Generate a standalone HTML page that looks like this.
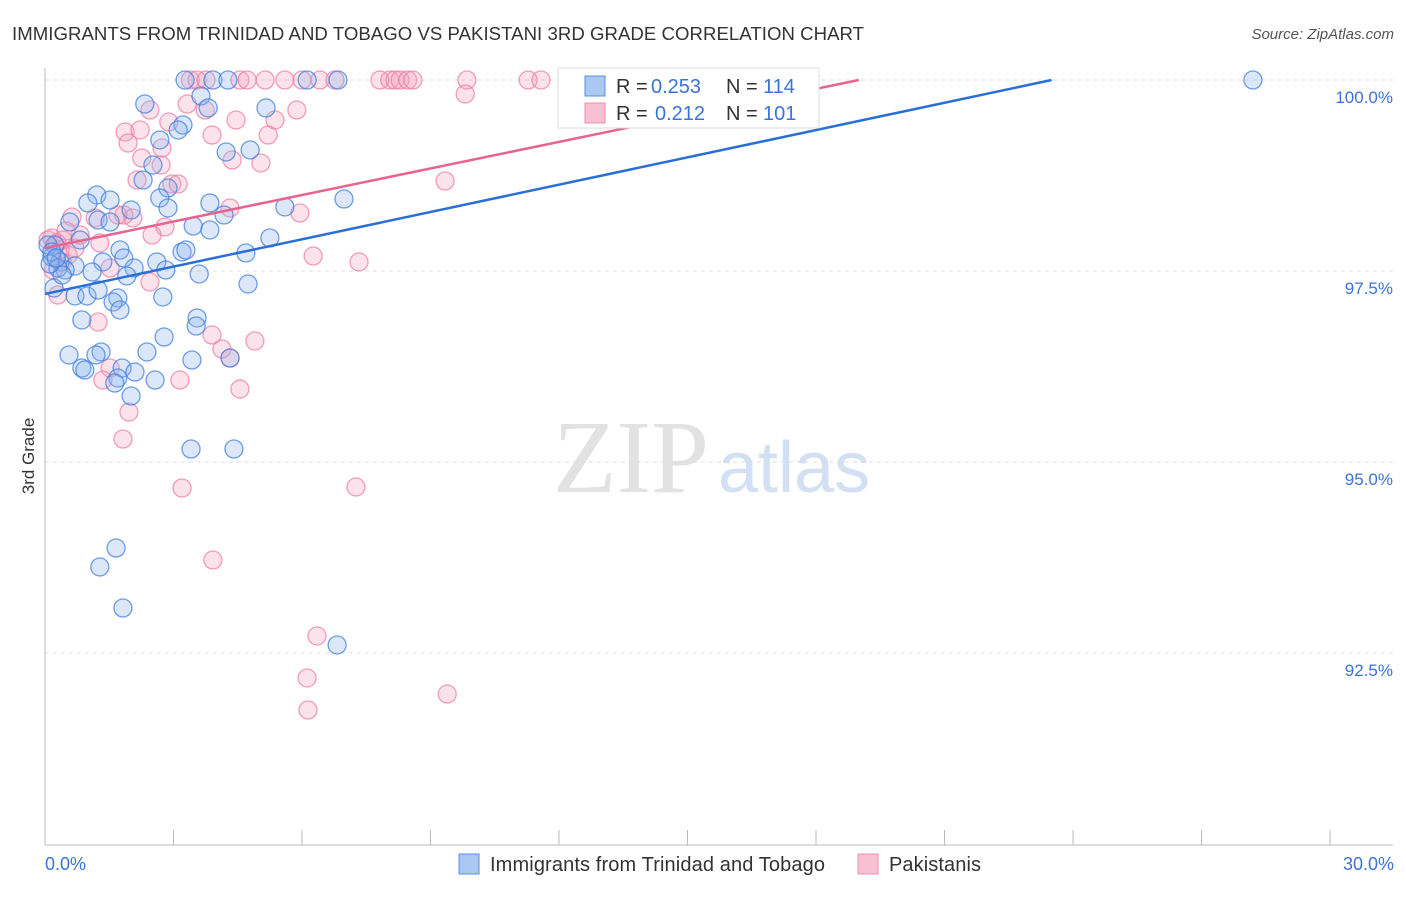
<!DOCTYPE html>
<html><head><meta charset="utf-8"><style>
body{margin:0;background:#fff;font-family:"Liberation Sans",sans-serif;}
</style></head><body>
<svg id="chart" width="1406" height="892" xmlns="http://www.w3.org/2000/svg">
<text x="12" y="40" font-size="18.6" fill="#333" textLength="852">IMMIGRANTS FROM TRINIDAD AND TOBAGO VS PAKISTANI 3RD GRADE CORRELATION CHART</text>
<text x="1394" y="39" font-size="15" fill="#555" font-style="italic" text-anchor="end">Source: ZipAtlas.com</text>
<text x="553" y="492" font-size="104" fill="#e2e2e2" font-family="Liberation Serif,serif">ZIP</text>
<text x="718" y="492" font-size="72" fill="#d3e0f3">atlas</text>
<g id="grid"></g>
<g id="axes"></g>
<g id="pts"></g>
<g id="lines"></g>
<text transform="translate(34,456) rotate(-90)" font-size="17" fill="#333" text-anchor="middle">3rd Grade</text>
<text x="45" y="870" font-size="18" fill="#3b73d6">0.0%</text>
<text x="1394" y="870" font-size="18" fill="#3b73d6" text-anchor="end">30.0%</text>
<g>
<rect x="558" y="68" width="261" height="60" fill="#fff" stroke="#ddd"/>
<rect x="585" y="76" width="20" height="20" fill="#aac8f2" stroke="#5b8fe0"/>
<rect x="585" y="103" width="20" height="20" fill="#f8c0d2" stroke="#ee8fae"/>
<text x="616" y="93" font-size="20" fill="#333">R =</text>
<text x="651" y="93" font-size="20" fill="#3b73d6">0.253</text>
<text x="726" y="93" font-size="20" fill="#333">N =</text>
<text x="763" y="93" font-size="20" fill="#3b73d6">114</text>
<text x="616" y="120" font-size="20" fill="#333">R =</text>
<text x="655" y="120" font-size="20" fill="#3b73d6">0.212</text>
<text x="726" y="120" font-size="20" fill="#333">N =</text>
<text x="763" y="120" font-size="20" fill="#3b73d6">101</text>
</g>
<g>
<rect x="459" y="854" width="20" height="20" fill="#aac8f2" stroke="#5b8fe0"/>
<text x="490" y="871" font-size="20" fill="#333" textLength="335">Immigrants from Trinidad and Tobago</text>
<rect x="858" y="854" width="20" height="20" fill="#f8c0d2" stroke="#ee8fae"/>
<text x="889" y="871" font-size="20" fill="#333" textLength="92">Pakistanis</text>
</g>
</svg>
<script>
const yTicks=[100,97.5,95,92.5];
const yTickLabels=["100.0%","97.5%","95.0%","92.5%"];
const blueLine=[[0,97.2],[23.5,100]];
const pinkLine=[[0,97.8],[19.0,100]];
const bluePx=[[185,80],[213,80],[228,80],[307,80],[338,80],[1253,80],[145,104],[201,96],[208,108],[266,108],[183,125],[178,130],[160,140],[226,152],[250,150],[153,165],[143,180],[168,188],[97,195],[110,200],[88,203],[160,198],[210,203],[285,207],[344,199],[131,210],[168,208],[224,215],[98,220],[110,222],[70,222],[193,226],[210,230],[270,238],[55,245],[80,240],[120,250],[182,252],[186,250],[246,253],[52,257],[60,262],[75,266],[103,262],[124,258],[157,262],[134,268],[166,270],[65,270],[92,272],[127,276],[199,274],[248,284],[54,288],[75,296],[87,296],[98,290],[118,298],[163,297],[113,302],[120,310],[82,320],[197,318],[196,326],[164,337],[147,352],[101,352],[69,355],[96,355],[230,358],[192,360],[82,368],[85,370],[122,368],[135,372],[118,378],[155,380],[115,383],[131,396],[191,449],[234,449],[116,548],[100,567],[123,608],[337,645],[48,245],[52,252],[58,268],[62,275],[50,264],[56,258]];
const pinkPx=[[190,80],[197,80],[206,80],[240,80],[247,80],[265,80],[285,80],[302,80],[320,80],[335,80],[380,80],[390,80],[395,80],[400,80],[408,80],[413,80],[467,80],[528,80],[541,80],[575,80],[725,80],[465,94],[187,104],[205,110],[150,110],[297,110],[236,120],[275,120],[169,122],[125,132],[140,130],[212,135],[268,135],[128,143],[162,148],[232,160],[261,163],[142,158],[161,165],[137,180],[172,184],[178,184],[445,181],[230,208],[300,213],[124,215],[72,217],[95,218],[118,215],[133,218],[165,227],[152,235],[63,240],[100,243],[75,248],[313,256],[359,262],[110,268],[48,240],[52,238],[60,250],[68,255],[53,270],[62,262],[150,282],[58,295],[98,322],[212,335],[255,341],[222,349],[230,358],[110,368],[103,380],[180,380],[240,389],[129,412],[123,439],[182,488],[356,487],[213,560],[317,636],[307,678],[308,710],[447,694],[57,243],[80,235],[66,231]];
const blueX=bluePx.map(p=>+((p[0]-45)/1285*30).toFixed(2));
const blueY=bluePx.map(p=>+(100-(p[1]-80)/191*2.5).toFixed(3));
const pinkX=pinkPx.map(p=>+((p[0]-45)/1285*30).toFixed(2));
const pinkY=pinkPx.map(p=>+(100-(p[1]-80)/191*2.5).toFixed(3));
const NS="http://www.w3.org/2000/svg";
const X=v=>45+v/30*1285, Y=v=>80+(100-v)/2.5*191;
function mk(t,a,p){const e=document.createElementNS(NS,t);for(const k in a)e.setAttribute(k,a[k]);p.appendChild(e);return e;}
const grid=document.getElementById('grid'),axes=document.getElementById('axes'),pts=document.getElementById('pts'),lines=document.getElementById('lines');
yTicks.forEach((t,i)=>{
 const l=mk('line',{x1:45,x2:1393,y1:Y(t),y2:Y(t),stroke:'#ddd','stroke-dasharray':'4,4'},grid);
 
 
 const tx=mk('text',{x:1393,y:Y(t)+23,'font-size':17,fill:'#3b73d6','text-anchor':'end'},grid);
 tx.textContent=yTickLabels[i];
 
 
});
const ax=mk('line',{x1:45,x2:45,y1:68,y2:845,stroke:'#bbb'},axes);


const bx=mk('line',{x1:45,x2:1393,y1:845,y2:845,stroke:'#bbb'},axes);


for(let i=0;i<=10;i++){const t=mk('line',{x1:X(i*3),x2:X(i*3),y1:830,y2:845,stroke:'#bbb'},axes);
 
 }
function series(xs,ys,fill,stroke,name){xs.forEach((x,i)=>{const c=mk('circle',{cx:X(x),cy:Y(ys[i]),r:9,fill:fill,'fill-opacity':0.3,stroke:stroke,'stroke-opacity':0.75,'stroke-width':1.3},pts);
 
 });}
series(pinkX,pinkY,'#f4a0bc','#ee7fa4','pakistani-point');
series(blueX,blueY,'#8ab4ee','#3f7fe0','trinidad-point');
const bl=mk('line',{x1:X(blueLine[0][0]),y1:Y(blueLine[0][1]),x2:X(blueLine[1][0]),y2:Y(blueLine[1][1]),stroke:'#2a6fd6','stroke-width':2.5},lines);


const pl=mk('line',{x1:X(pinkLine[0][0]),y1:Y(pinkLine[0][1]),x2:X(pinkLine[1][0]),y2:Y(pinkLine[1][1]),stroke:'#e8648e','stroke-width':2.5},lines);


</script>
</body></html>
